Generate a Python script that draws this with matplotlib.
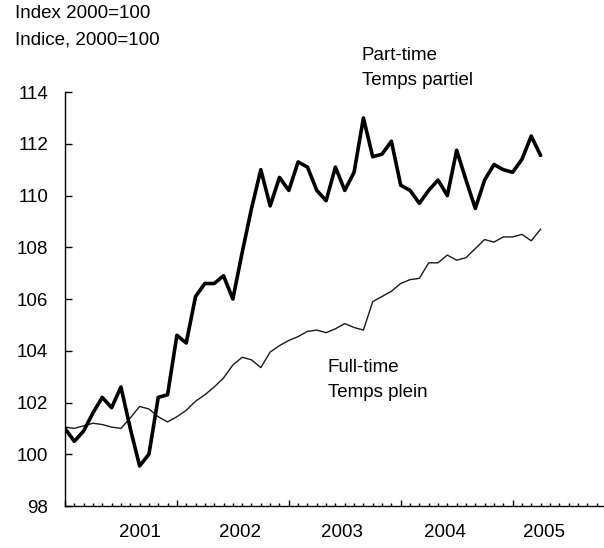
import numpy as np
import matplotlib.pyplot as plt
import matplotlib.ticker as mtick
import matplotlib.transforms as mtrans

plt.rcParams['font.family'] = ['Liberation Sans', 'DejaVu Sans']

# months since January 2001
part_time = [101.0, 100.5, 100.9, 101.6, 102.2, 101.8, 102.6, 101.0, 99.55, 100.0,
             102.2, 102.3, 104.6, 104.3, 106.1, 106.6, 106.6, 106.9, 106.0, 107.8,
             109.5, 111.0, 109.6, 110.7, 110.2, 111.3, 111.1, 110.2, 109.8, 111.1,
             110.2, 110.9, 113.0, 111.5, 111.6, 112.1, 110.4, 110.2, 109.7, 110.2,
             110.6, 110.0, 111.75, 110.6, 109.5, 110.6, 111.2, 111.0, 110.9, 111.4,
             112.3, 111.55]
full_time = [101.05, 101.0, 101.1, 101.2, 101.15, 101.05, 101.0, 101.4, 101.85, 101.75,
             101.45, 101.25, 101.45, 101.7, 102.05, 102.3, 102.6, 102.95, 103.45, 103.75,
             103.65, 103.35, 103.95, 104.2, 104.4, 104.55, 104.75, 104.8, 104.7, 104.85,
             105.05, 104.9, 104.8, 105.9, 106.1, 106.3, 106.6, 106.75, 106.8, 107.4,
             107.4, 107.7, 107.5, 107.6, 107.95, 108.3, 108.2, 108.4, 108.4, 108.5,
             108.25, 108.7]
years = ['2001', '2002', '2003', '2004', '2005']
year_label_pos = [8.0, 18.75, 29.7, 40.7, 51.4]

months = np.arange(len(part_time))
fs = 13.5

fig = plt.figure(figsize=(6.04, 5.48), dpi=100)
ax = fig.add_axes([0.1076, 0.0766, 0.8924, 0.7554])
ax.set_clip_on(False)

ax.plot(months, full_time, color='#1a1a1a', lw=1.0, solid_joinstyle='round')
ax.plot(months, part_time, color='black', lw=2.6, solid_joinstyle='round',
        solid_capstyle='round')

ax.set_xlim(0, 57.8)
ax.set_ylim(98, 114)
ax.yaxis.set_major_locator(mtick.MultipleLocator(2))
ax.xaxis.set_major_locator(mtick.MultipleLocator(12))
ax.xaxis.set_minor_locator(mtick.MultipleLocator(1))
ax.xaxis.set_major_formatter(mtick.NullFormatter())

for s in ['top', 'right']:
    ax.spines[s].set_visible(False)
for s in ['left', 'bottom']:
    ax.spines[s].set_linewidth(1.0)

ax.tick_params(axis='y', direction='in', length=5, width=1.0, labelsize=fs, pad=12)
ax.tick_params(axis='x', which='major', direction='in', length=4, width=1.0)
ax.tick_params(axis='x', which='minor', direction='in', length=2.2, width=1.0)

trans = mtrans.blended_transform_factory(ax.transData, ax.transAxes)
for pos, lab in zip(year_label_pos, years):
    ax.text(pos, -0.065, lab, transform=trans, ha='center', va='center', fontsize=fs)

fig.text(15/604, 1 - 14/548, 'Index 2000=100', ha='left', va='center', fontsize=fs)
fig.text(15/604, 1 - 40/548, 'Indice, 2000=100', ha='left', va='center', fontsize=fs)

ax.text(31.8, 115.43, 'Part-time', ha='left', va='center', fontsize=fs, clip_on=False)
ax.text(31.8, 114.46, 'Temps partiel', ha='left', va='center', fontsize=fs, clip_on=False)
ax.text(28.2, 103.34, 'Full-time', ha='left', va='center', fontsize=fs)
ax.text(28.2, 102.38, 'Temps plein', ha='left', va='center', fontsize=fs)

fig.savefig('out.png', dpi=100)
